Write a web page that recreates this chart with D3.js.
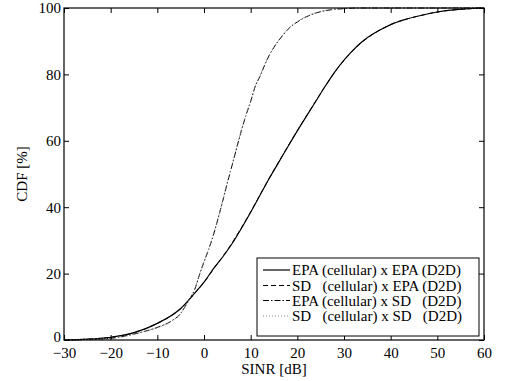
<!DOCTYPE html>
<html>
<head>
<meta charset="utf-8">
<script src="https://cdn.jsdelivr.net/npm/d3@7"></script>
<style>
  html, body { margin: 0; padding: 0; background: #fff; }
  svg { display: block; }
  text { font-family: "Liberation Serif", "Times New Roman", serif; fill: #000; }
</style>
</head>
<body>
<svg id="chart" width="510" height="381"></svg>
<script>
// ---- Data ----
const xTicks = [-30, -20, -10, 0, 10, 20, 30, 40, 50, 60];
const yTicks = [0, 20, 40, 60, 80, 100];

// SINR grid for the "EPA x EPA" family (right curve)
const sinrRight = [-30, -25, -20, -15, -10, -5, -2, 0, 2, 4, 6, 8, 10, 12, 14, 16, 18, 20, 22, 24, 26, 28, 30, 32, 34, 36, 38, 40, 43, 46, 50, 54, 57, 60];
const cdfEpaEpa = [0, 0.25, 0.8, 2.2, 5.0, 9.5, 14.1, 17.4, 21.4, 25.0, 29.0, 33.6, 38.5, 43.6, 48.7, 53.5, 58.3, 63.0, 67.5, 72.0, 76.5, 80.7, 84.3, 87.4, 90.0, 92.0, 93.6, 95.0, 96.5, 97.6, 98.8, 99.5, 99.8, 100];
const cdfSdEpa  = [0, 0.25, 0.8, 2.2, 5.0, 9.4, 14.0, 17.3, 21.3, 25.1, 29.2, 33.8, 38.6, 43.7, 48.8, 53.6, 58.4, 63.1, 67.6, 72.1, 76.5, 80.6, 84.2, 87.3, 89.9, 91.9, 93.6, 95.0, 96.5, 97.6, 98.8, 99.5, 99.8, 100];

// SINR grid for the "x SD (D2D)" family (left curve)
const sinrLeft = [-30, -25, -20, -15, -13, -10, -7, -5, -4, -3, -2, -1, 0, 1, 2, 3, 4, 5, 6, 7, 8, 9, 10, 11, 12, 13, 14, 15, 16, 17, 18, 20, 22, 24, 26, 28, 30, 33, 40, 50, 60];
const cdfEpaSd = [0, 0.15, 0.5, 1.8, 2.5, 3.8, 5.7, 8.0, 10.2, 12.5, 15.2, 19.5, 23.5, 27.3, 31.5, 36.5, 41.8, 47.3, 52.5, 57.8, 63.0, 67.7, 71.8, 76.5, 79.4, 82.8, 85.8, 88.2, 90.2, 92.0, 93.6, 95.8, 97.4, 98.5, 99.2, 99.6, 99.8, 100, 100, 100, 100];
const cdfSdSd  = [0, 0.15, 0.5, 1.7, 2.4, 3.7, 5.6, 7.9, 10.1, 12.4, 15.3, 19.7, 23.7, 27.5, 31.8, 36.8, 42.0, 47.5, 52.7, 58.0, 63.2, 67.9, 72.0, 76.6, 79.6, 83.0, 85.9, 88.3, 90.3, 92.1, 93.7, 95.9, 97.5, 98.6, 99.3, 99.7, 99.9, 100, 100, 100, 100];

const legendLabels = [
  "EPA (cellular) x EPA (D2D)",
  "SD   (cellular) x EPA (D2D)",
  "EPA (cellular) x SD   (D2D)",
  "SD   (cellular) x SD   (D2D)"
];

// ---- Layout ----
const svg = d3.select("#chart");
const L = 64, R = 484, T = 8, B = 340;

const x = d3.scaleLinear().domain([-30, 60]).range([L, R]);
const y = d3.scaleLinear().domain([0, 100]).range([B, T]);

const series = [
  { xs: sinrRight, ys: cdfEpaEpa, dash: null,        color: "#000", w: 1.2 },
  { xs: sinrRight, ys: cdfSdEpa,  dash: "5,3",       color: "#000", w: 1.0 },
  { xs: sinrLeft,  ys: cdfEpaSd,  dash: "6,2,1.5,2", color: "#000", w: 1.0 },
  { xs: sinrLeft,  ys: cdfSdSd,   dash: "1,2",       color: "#888", w: 1.0 }
];

const line = d3.line().curve(d3.curveMonotoneX);

const plot = svg.append("g");
series.forEach(s => {
  const pts = s.xs.map((v, i) => [x(v), y(s.ys[i])]);
  plot.append("path")
    .attr("d", line(pts))
    .attr("fill", "none")
    .attr("stroke", s.color)
    .attr("stroke-width", s.w)
    .attr("stroke-dasharray", s.dash);
});

// ---- Axes (MATLAB-style box, inward ticks) ----
const tk = 5;
const axB = svg.append("g").attr("transform", `translate(0,${B})`)
  .call(d3.axisBottom(x).tickValues(xTicks).tickSizeInner(-tk).tickSizeOuter(0)
    .tickPadding(8).tickFormat(d => d < 0 ? "\u2212" + Math.abs(d) : d));
const axT = svg.append("g").attr("transform", `translate(0,${T})`)
  .call(d3.axisTop(x).tickValues(xTicks).tickSizeInner(-tk).tickSizeOuter(0).tickFormat(""));
const axLft = svg.append("g").attr("transform", `translate(${L},0)`)
  .call(d3.axisLeft(y).tickValues(yTicks).tickSizeInner(-tk).tickSizeOuter(0).tickPadding(3));
const axRt = svg.append("g").attr("transform", `translate(${R},0)`)
  .call(d3.axisRight(y).tickValues(yTicks).tickSizeInner(-tk).tickSizeOuter(0).tickFormat(""));

[axB, axT, axLft, axRt].forEach(a => {
  a.select(".domain").remove();
  a.selectAll("line").attr("stroke", "#000");
  a.selectAll("text").style("font-family", "'Liberation Serif', serif").style("font-size", "15px").attr("fill", "#000");
});
axB.selectAll("text").attr("dy", "0.65em");
axLft.selectAll("text").filter(d => d === 0).attr("dy", "0.1em");

svg.append("rect").attr("x", L).attr("y", T).attr("width", R - L).attr("height", B - T)
  .attr("fill", "none").attr("stroke", "#000").attr("stroke-width", 1.2);

// Axis titles
svg.append("text").attr("x", (L + R) / 2).attr("y", 374).attr("text-anchor", "middle")
  .style("font-size", "15px").text("SINR [dB]");
svg.append("text").attr("transform", `translate(27,${(T + B) / 2}) rotate(-90)`).attr("text-anchor", "middle")
  .style("font-size", "15px").text("CDF [%]");

// ---- Legend ----
const lg = svg.append("g");
lg.append("rect").attr("x", 257).attr("y", 258).attr("width", 222).attr("height", 78)
  .attr("fill", "#fff").attr("stroke", "#000").attr("stroke-width", 1);
const rowY = [270, 285.5, 300.5, 316];
legendLabels.forEach((lab, i) => {
  const s = series[i];
  lg.append("line").attr("x1", 263).attr("x2", 290).attr("y1", rowY[i]).attr("y2", rowY[i])
    .attr("stroke", s.color).attr("stroke-width", s.w).attr("stroke-dasharray", s.dash);
  lg.append("text").attr("x", 292).attr("y", rowY[i]).attr("dy", "0.35em")
    .attr("xml:space", "preserve").style("white-space", "pre")
    .style("font-size", "15px").text(lab);
});
</script>
</body>
</html>
